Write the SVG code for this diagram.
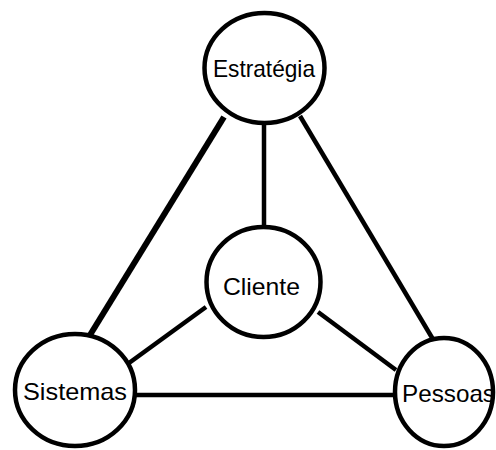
<svg xmlns="http://www.w3.org/2000/svg" width="496" height="450" viewBox="0 0 496 450">
<style>
.node{fill:#fff;stroke:#000;stroke-width:4.5}
.edge{stroke:#000;stroke-width:4.5;fill:none;stroke-linecap:butt}
.lbl{font-family:"Liberation Sans",Arial,sans-serif;font-size:24px;fill:#000;text-anchor:middle}
</style>
<rect width="496" height="450" fill="#fff"/>
<g id="connectors">
<line class="edge" x1="264" y1="124" x2="264" y2="228"/>
<line class="edge" x1="224" y1="117" x2="90" y2="335" style="stroke-width:6"/>
<line class="edge" x1="300" y1="116" x2="434" y2="341"/>
<line class="edge" x1="206" y1="307" x2="129" y2="363"/>
<line class="edge" x1="318" y1="312" x2="396" y2="370"/>
<line class="edge" x1="136" y1="395" x2="394" y2="395"/>
</g>
<g id="estrategia">
<ellipse class="node" cx="264.5" cy="68" rx="60" ry="55"/>
<text class="lbl" x="264" y="77" font-size="22" textLength="102" lengthAdjust="spacingAndGlyphs">Estratégia</text>
</g>
<g id="cliente">
<ellipse class="node" cx="263.5" cy="282" rx="57" ry="55"/>
<text class="lbl" x="261.5" y="295" textLength="77" lengthAdjust="spacingAndGlyphs">Cliente</text>
</g>
<g id="sistemas">
<ellipse class="node" cx="75" cy="390" rx="60" ry="56"/>
<text class="lbl" x="75" y="400" textLength="104" lengthAdjust="spacingAndGlyphs">Sistemas</text>
</g>
<g id="pessoas">
<ellipse class="node" cx="444" cy="392" rx="49" ry="54"/>
<text class="lbl" x="448.5" y="402" textLength="93" lengthAdjust="spacingAndGlyphs">Pessoas</text>
</g>
</svg>
